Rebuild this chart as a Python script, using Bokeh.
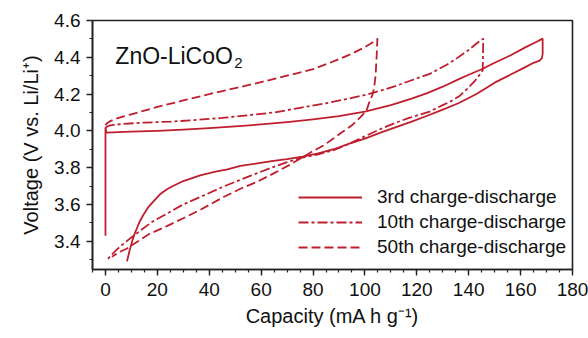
from bokeh.plotting import figure
from bokeh.models import (Range1d, FixedTicker, NumeralTickFormatter, Label,
                          Legend, LegendItem)
from bokeh.embed import file_html
from bokeh.resources import INLINE

# Voltage profiles of the ZnO-coated LiCoO2 cathode (charge, then discharge)
cap_3rd = [0, 0, 0.4, 5, 10, 20, 30, 40, 50, 60, 70, 80, 90, 100, 110, 118,
           124, 130, 136, 140, 145, 150, 156, 162, 166, 168.3,
           168.5, 168.5, 168.2, 167.3, 165, 162, 156, 150, 143, 136, 130, 124,
           118, 112, 106, 100, 94, 88, 82, 76, 70, 64, 58, 52, 47, 42, 36.5,
           30, 26, 23.7, 21, 18.6, 16.5, 14.7, 13.3, 12.2, 11.2, 10.3, 9.3,
           8.3]
volt_3rd = [3.43, 4.015, 3.99, 3.993, 3.996, 4.0, 4.007, 4.015, 4.024, 4.035,
            4.047, 4.062, 4.08, 4.105, 4.14, 4.175, 4.205, 4.24, 4.28, 4.305,
            4.335, 4.37, 4.41, 4.455, 4.483, 4.5,
            4.5, 4.42, 4.395, 4.382, 4.37, 4.348, 4.305, 4.262, 4.2, 4.15,
            4.115, 4.082, 4.05, 4.02, 3.99, 3.958, 3.93, 3.9, 3.878, 3.86,
            3.846, 3.835, 3.822, 3.809, 3.791, 3.777, 3.758, 3.727, 3.7, 3.682,
            3.655, 3.618, 3.585, 3.545, 3.51, 3.473, 3.44, 3.4, 3.35, 3.29]

cap_10th = [0, 0.5, 1.5, 3, 7, 15, 25, 33, 45, 55, 65, 75, 85, 92, 100, 106,
            112, 118, 125, 131, 135, 140, 143, 145.5,
            145.6, 145.4, 144.2, 142.3, 139.5, 136.5, 133, 130, 125, 117, 112,
            106, 100, 94, 88, 82, 76, 70, 64, 55.8, 46, 36.5, 30, 23.7, 18,
            13.5, 9.5, 5.8, 3, 1.3, 0.5]
volt_10th = [4.015, 4.022, 4.028, 4.032, 4.038, 4.045, 4.05, 4.057, 4.07, 4.085,
             4.1, 4.125, 4.15, 4.17, 4.195, 4.218, 4.245, 4.275, 4.31, 4.355,
             4.39, 4.44, 4.475, 4.5,
             4.5, 4.33, 4.305, 4.27, 4.23, 4.19, 4.16, 4.14, 4.105, 4.07,
             4.045, 4.01, 3.97, 3.93, 3.895, 3.872, 3.855, 3.83, 3.8, 3.755,
             3.7, 3.64, 3.6, 3.55, 3.505, 3.458, 3.415, 3.373, 3.335, 3.309,
             3.297]

cap_50th = [0, 0.5, 1.5, 3, 6, 10, 15, 20, 30, 40, 50, 60, 70, 80, 86.5, 90,
            95, 100, 104.6, 104.8,
            104.5, 104.1, 103.6, 103, 101.8, 100.6, 98, 95, 92, 88, 84, 80,
            75, 71, 65, 58, 52, 45.5, 36.5, 30, 23.7, 17, 10.9, 8.3, 6, 3.8,
            2.5]
volt_50th = [4.03, 4.04, 4.05, 4.06, 4.075, 4.09, 4.11, 4.13, 4.165, 4.2,
             4.232, 4.265, 4.3, 4.335, 4.37, 4.39, 4.42, 4.455, 4.495, 4.5,
             4.4, 4.3, 4.24, 4.2, 4.16, 4.11, 4.07, 4.03, 4.0, 3.96, 3.92,
             3.89, 3.848, 3.815, 3.77, 3.72, 3.685, 3.64, 3.57, 3.525, 3.482,
             3.44, 3.385, 3.36, 3.345, 3.327, 3.315]

cycle_names = ["3rd charge-discharge", "10th charge-discharge",
               "50th charge-discharge"]
x_ticks = [0, 20, 40, 60, 80, 100, 120, 140, 160, 180]
y_ticks = [3.4, 3.6, 3.8, 4.0, 4.2, 4.4, 4.6]

RED = "#BE1E2D"
INK = "#111111"
FONT = "Liberation Sans"

p = figure(width=588, height=338, output_backend="svg", toolbar_location=None,
           x_range=Range1d(-5, 180), y_range=Range1d(3.246, 4.6),
           min_border_left=92, min_border_right=16, min_border_top=20,
           min_border_bottom=69)
p.background_fill_color = "white"
p.border_fill_color = "white"
p.grid.visible = False
p.outline_line_color = "#222222"
p.outline_line_width = 1.6

p.xaxis.ticker = FixedTicker(ticks=x_ticks,
                             minor_ticks=[v * 5 for v in range(-1, 37)])
p.yaxis.ticker = FixedTicker(ticks=y_ticks,
                             minor_ticks=[3.3 + 0.1 * k for k in range(13)])
p.yaxis.formatter = NumeralTickFormatter(format="0.0")
p.xaxis.formatter = NumeralTickFormatter(format="0")

for ax in (p.xaxis[0], p.yaxis[0]):
    ax.axis_line_color = "#222222"
    ax.axis_line_width = 1.6
    ax.major_tick_line_color = "#222222"
    ax.minor_tick_line_color = "#222222"
    ax.major_tick_line_width = 1.4
    ax.minor_tick_line_width = 1.2
    ax.major_tick_in = 0
    ax.major_tick_out = 6
    ax.minor_tick_in = 0
    ax.minor_tick_out = 3
    ax.major_label_text_font = FONT
    ax.major_label_text_font_size = "19px"
    ax.major_label_text_color = INK
    ax.axis_label_text_font = FONT
    ax.axis_label_text_font_size = "20px"
    ax.axis_label_text_font_style = "normal"
    ax.axis_label_text_color = INK

p.xaxis.axis_label = "Capacity (mA h g\u207b\u00b9)"
p.yaxis.axis_label = "Voltage (V vs. Li/Li\u207a)"
p.xaxis.major_label_standoff = 7
p.yaxis.major_label_standoff = 6
p.xaxis.axis_label_standoff = 6
p.yaxis.axis_label_standoff = 9

r3 = p.line(cap_3rd, volt_3rd, line_color=RED, line_width=1.8,
            line_join="round")
r10 = p.line(cap_10th, volt_10th, line_color=RED, line_width=1.8,
             line_dash="10 3 3 3", line_join="round")
r50 = p.line(cap_50th, volt_50th, line_color=RED, line_width=1.8,
             line_dash="9 4", line_join="round")

legend = Legend(items=[LegendItem(label=cycle_names[0], renderers=[r3]),
                       LegendItem(label=cycle_names[1], renderers=[r10]),
                       LegendItem(label=cycle_names[2], renderers=[r50])],
                location=(206, 11), glyph_width=64, glyph_height=20,
                label_height=20, label_standoff=15, spacing=3, padding=0,
                margin=0, border_line_alpha=0, background_fill_alpha=0,
                label_text_font=FONT, label_text_font_size="19px",
                label_text_color=INK)
p.add_layout(legend, "center")

p.add_layout(Label(x=3.8, y=4.409, text="ZnO-LiCoO", text_font=FONT,
                   text_font_size="23px", text_color=INK,
                   text_baseline="alphabetic"))
p.add_layout(Label(x=49.6, y=4.37, text="2", text_font=FONT,
                   text_font_size="15px", text_color=INK,
                   text_baseline="alphabetic"))

open("out.html", "w").write(file_html(p, INLINE))
